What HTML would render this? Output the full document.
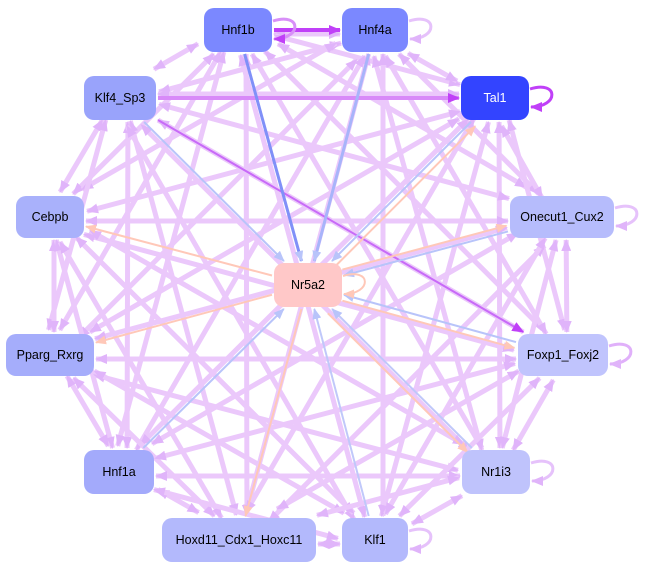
<!DOCTYPE html>
<html><head><meta charset="utf-8"><style>
html,body{margin:0;padding:0;background:#fff;width:648px;height:572px;overflow:hidden}
svg{display:block}
text{font-family:"Liberation Sans",Arial,sans-serif;font-size:12.5px;text-anchor:middle;dominant-baseline:central}
</style></head><body>
<svg id="s" width="648" height="572" xmlns="http://www.w3.org/2000/svg">
<defs>
<marker id="ap" markerWidth="12" markerHeight="10" refX="11" refY="5" orient="auto-start-reverse" markerUnits="userSpaceOnUse"><path d="M0,0L12,5L0,10z" fill="#e0b4fa"/></marker>
<marker id="am" markerWidth="12" markerHeight="10" refX="11" refY="5" orient="auto" markerUnits="userSpaceOnUse"><path d="M0,0L12,5L0,10z" fill="#c040f8"/></marker>
<marker id="ab" markerWidth="11" markerHeight="9" refX="10" refY="4.5" orient="auto" markerUnits="userSpaceOnUse"><path d="M0,0L11,4.5L0,9z" fill="#b8c4fa"/></marker>
<marker id="ao" markerWidth="11" markerHeight="9" refX="10" refY="4.5" orient="auto" markerUnits="userSpaceOnUse"><path d="M0,0L11,4.5L0,9z" fill="#ffc8b8"/></marker>
</defs>
<g id="edges"></g>
<g id="nodes"></g>
</svg>
<script>
var N={
Hnf1b:[238,30,68,44,'#7b88ff','#000'],
Hnf4a:[375,30,66,44,'#7b88ff','#000'],
Tal1:[495,98,68,44,'#3344ff','#fff'],
Klf4_Sp3:[120,98,72,44,'#99a3fb','#000'],
Cebpb:[50,217,68,42,'#a9b1fb','#000'],
Onecut1_Cux2:[562,217,104,42,'#b6bcfc','#000'],
Nr5a2:[308,285,68,44,'#ffc8c8','#000'],
Pparg_Rxrg:[50,355,88,42,'#a5adfb','#000'],
Foxp1_Foxj2:[563,355,90,42,'#c0c4fd','#000'],
Hnf1a:[119,472,70,44,'#a3aafb','#000'],
Nr1i3:[496,472,68,44,'#bfc3fc','#000'],
Hoxd11_Cdx1_Hoxc11:[239,540,154,44,'#b3b9fc','#000'],
Klf1:[375,540,66,44,'#b3b9fc','#000']};
var ns='http://www.w3.org/2000/svg',E=document.getElementById('edges'),G=document.getElementById('nodes');
function el(t,a,p){var e=document.createElementNS(ns,t);for(var k in a)e.setAttribute(k,a[k]);p.appendChild(e);return e;}
function line(a,b,c,w,m,off,both){var A=N[a],B=N[b];var dx=B[0]-A[0],dy=B[1]-A[1],L=Math.hypot(dx,dy);
 var ox=-dy/L*(off||0),oy=dx/L*(off||0);
 var t=Math.min(Math.abs((B[2]/2+2)/(dx||1e-9)),Math.abs((B[3]/2+2)/(dy||1e-9)));t=Math.min(t,1);
 var s=Math.min(Math.abs((A[2]/2+2)/(dx||1e-9)),Math.abs((A[3]/2+2)/(dy||1e-9)));
 var at={x1:A[0]+dx*s+ox,y1:A[1]+dy*s+oy,x2:B[0]-dx*t+ox,y2:B[1]-dy*t+oy,stroke:c,'stroke-width':w};
 if(m)at['marker-end']='url(#'+m+')';if(both)at['marker-start']='url(#'+m+')';
 el('line',at,E);}
var outer=Object.keys(N).filter(function(k){return k!='Nr5a2'});
for(var i=0;i<outer.length;i++)for(var j=i+1;j<outer.length;j++){
 var o=((i*7+j*3)%5-2)*4;
 line(outer[i],outer[j],'#ebc8fb',5,'ap',o,true);}
line('Hnf1b','Hnf4a','#c040f8',4,'am',0);
line('Klf4_Sp3','Tal1','#d88af8',4,'am',0);
line('Klf4_Sp3','Foxp1_Foxj2','#c86af8',2,'am',0);
line('Hnf1b','Nr5a2','#8090f8',3,'ab',0);
line('Hnf4a','Nr5a2','#a8b4fa',3,'ab',0);
line('Klf4_Sp3','Nr5a2','#b8c4fa',2,'ab',0);
line('Tal1','Nr5a2','#b8c4fa',2,'ab',0);
line('Onecut1_Cux2','Nr5a2','#b8c4fa',2,'ab',0);
line('Foxp1_Foxj2','Nr5a2','#b8c4fa',2,'ab',0);
line('Hnf1a','Nr5a2','#b8c4fa',2,'ab',0);
line('Klf1','Nr5a2','#c0c8fa',2,'ab',0);
line('Nr1i3','Nr5a2','#c0c8fa',2,'ab',0);
line('Nr5a2','Tal1','#ffc8b8',2,'ao',6);
line('Nr5a2','Cebpb','#ffc8b8',2,'ao',0);
line('Nr5a2','Pparg_Rxrg','#ffc8b8',2,'ao',0);
line('Nr5a2','Onecut1_Cux2','#ffc8b8',2,'ao',-6);
line('Nr5a2','Foxp1_Foxj2','#ffc8b8',2,'ao',6);
line('Nr5a2','Nr1i3','#ffc8b8',2,'ao',6);
line('Nr5a2','Hoxd11_Cdx1_Hoxc11','#ffc8b8',2,'ao',0);
function loop(k,c,w,m){var A=N[k];var x=A[0]+A[2]/2,y=A[1];
 el('path',{d:'M'+(x+1)+','+(y-9)+' C'+(x+30)+','+(y-18)+' '+(x+30)+','+(y+9)+' '+(x+2)+','+(y+9),fill:'none',stroke:c,'stroke-width':w,'marker-end':'url(#'+m+')'},E);}
loop('Hnf1b','#d890f8',3,'am');loop('Hnf4a','#e6c2fb',3,'ap');loop('Tal1','#c040f8',3,'am');
loop('Onecut1_Cux2','#e6c2fb',3,'ap');loop('Foxp1_Foxj2','#e0b0fa',3,'ap');loop('Nr1i3','#e6c2fb',3,'ap');
loop('Klf1','#e6c2fb',3,'ap');loop('Nr5a2','#ffc8b8',2,'ao');
for(var k in N){var A=N[k];
 el('rect',{x:A[0]-A[2]/2,y:A[1]-A[3]/2,width:A[2],height:A[3],rx:10,fill:A[4]},G);
 var t=el('text',{x:A[0],y:A[1],fill:A[5]},G);t.textContent=k;}
</script>
</body></html>
